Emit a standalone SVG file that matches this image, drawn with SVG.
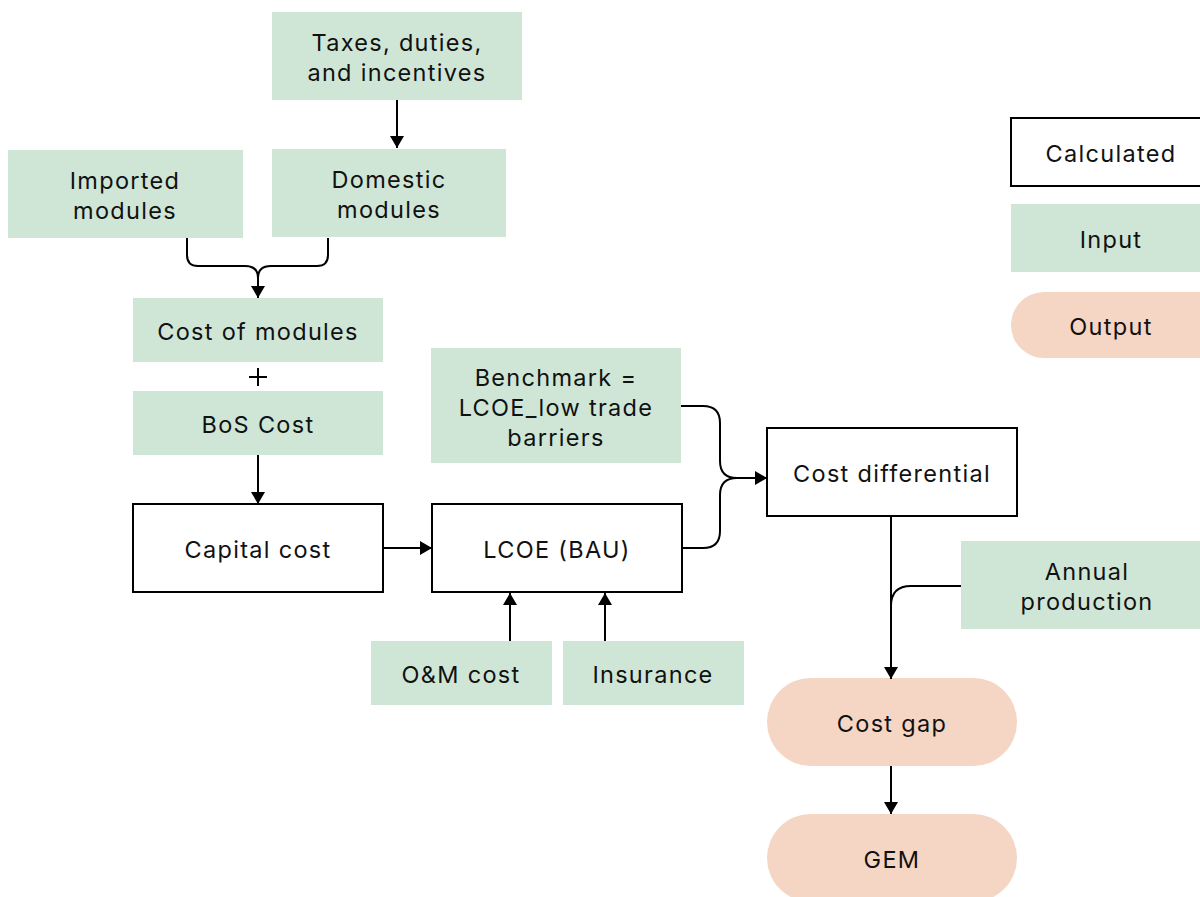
<svg xmlns="http://www.w3.org/2000/svg" width="1200" height="897" viewBox="0 0 1200 897">
<defs>
<marker id="ah" viewBox="0 0 12 14" refX="12" refY="7" markerWidth="12" markerHeight="14" markerUnits="userSpaceOnUse" orient="auto">
<path d="M0,0 L12,7 L0,14 Z" fill="#000"/>
</marker>
<style>
.in{fill:#cfe6d6}
.calc{fill:#fff;stroke:#000;stroke-width:2}
.out{fill:#f5d5c4}
text{font-family:Inter,"Noto Sans",sans-serif;font-size:23.5px;letter-spacing:1.3px;fill:#111;text-anchor:middle}
.c{fill:none;stroke:#000;stroke-width:2}
</style>
</defs>
<rect width="1200" height="897" fill="#fff"/>
<g id="taxes"><rect class="in" x="272" y="12" width="250" height="88"/><text x="397" y="51">Taxes, duties,</text><text x="397" y="81">and incentives</text></g>
<g id="imported"><rect class="in" x="8" y="150" width="235" height="88"/><text x="125" y="189">Imported</text><text x="125" y="219">modules</text></g>
<g id="domestic"><rect class="in" x="272" y="149" width="234" height="88"/><text x="389" y="188">Domestic</text><text x="389" y="218">modules</text></g>
<g id="costmod"><rect class="in" x="133" y="298" width="250" height="64"/><text x="258" y="340">Cost of modules</text></g>
<g id="plus"><path class="c" d="M249,377 H267 M258,368 V386" stroke-width="1.5"/></g>
<g id="bos"><rect class="in" x="133" y="391" width="250" height="64"/><text x="258" y="433">BoS Cost</text></g>
<g id="capital"><rect class="calc" x="133" y="504" width="250" height="88"/><text x="258" y="558">Capital cost</text></g>
<g id="lcoe"><rect class="calc" x="432" y="504" width="250" height="88"/><text x="557" y="558">LCOE (BAU)</text></g>
<g id="benchmark"><rect class="in" x="431" y="348" width="250" height="115"/><text x="556" y="386">Benchmark =</text><text x="556" y="416">LCOE_low trade</text><text x="556" y="446">barriers</text></g>
<g id="costdiff"><rect class="calc" x="767" y="428" width="250" height="88"/><text x="892" y="482">Cost differential</text></g>
<g id="annual"><rect class="in" x="961" y="541" width="245" height="88"/><text x="1087" y="580">Annual</text><text x="1087" y="610">production</text></g>
<g id="om"><rect class="in" x="371" y="641" width="181" height="64"/><text x="461" y="683">O&amp;M cost</text></g>
<g id="insurance"><rect class="in" x="563" y="641" width="181" height="64"/><text x="653" y="683">Insurance</text></g>
<g id="costgap"><rect class="out" x="767" y="678" width="250" height="88" rx="44"/><text x="892" y="732">Cost gap</text></g>
<g id="gem"><rect class="out" x="767" y="814" width="250" height="88" rx="44"/><text x="892" y="868">GEM</text></g>
<g id="legend">
<rect class="calc" x="1011" y="118" width="200" height="68"/><text x="1111" y="162">Calculated</text>
<rect class="in" x="1011" y="204" width="200" height="68"/><text x="1111" y="248">Input</text>
<rect class="out" x="1011" y="292" width="220" height="66" rx="33"/><text x="1111" y="335">Output</text>
</g>
<g id="connectors">
<path class="c" d="M397,100 V148" marker-end="url(#ah)"/>
<path class="c" d="M187,238 V255 Q187,266 198,266 H245 Q258,266 258,278"/>
<path class="c" d="M328,238 V255 Q328,266 317,266 H271 Q258,266 258,278 V298" marker-end="url(#ah)"/>
<path class="c" d="M258,455 V504" marker-end="url(#ah)"/>
<path class="c" d="M383,548 H432" marker-end="url(#ah)"/>
<path class="c" d="M682,548 H703 Q720,548 720,531 V495 Q720,478 737,478 H767" marker-end="url(#ah)"/>
<path class="c" d="M681,406 H703 Q720,406 720,423 V461 Q720,478 737,478"/>
<path class="c" d="M510,641 V593" marker-end="url(#ah)"/>
<path class="c" d="M605,641 V593" marker-end="url(#ah)"/>
<path class="c" d="M891,516 V679" marker-end="url(#ah)"/>
<path class="c" d="M961,586 H911 Q891,586 891,606"/>
<path class="c" d="M891,766 V814" marker-end="url(#ah)"/>
</g>
</svg>
